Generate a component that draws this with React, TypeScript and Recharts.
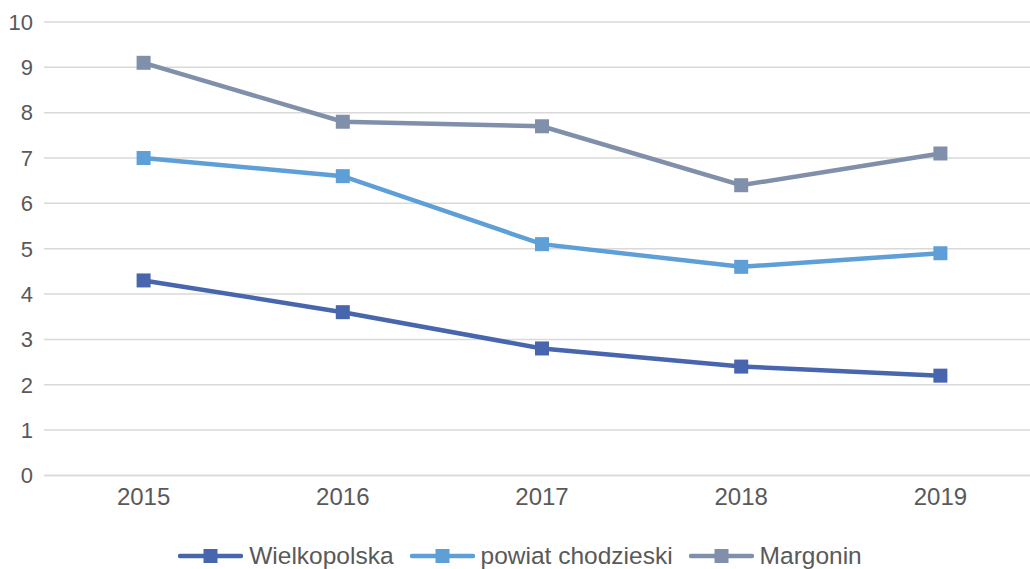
import React from 'react';
import { LineChart, Line, XAxis, YAxis, CartesianGrid, Legend } from 'recharts';

const years = ['2015', '2016', '2017', '2018', '2019'];
const wielkopolska = [4.3, 3.6, 2.8, 2.4, 2.2];
const powiatChodzieski = [7.0, 6.6, 5.1, 4.6, 4.9];
const margonin = [9.1, 7.8, 7.7, 6.4, 7.1];
const yTicks = [0, 1, 2, 3, 4, 5, 6, 7, 8, 9, 10];

const seriesDefs = [
  { key: 'wielkopolska', name: 'Wielkopolska', color: '#4866AD' },
  { key: 'powiat', name: 'powiat chodzieski', color: '#5E9FD7' },
  { key: 'margonin', name: 'Margonin', color: '#8090AA' },
];

const data = years.map((y, i) => ({
  year: y,
  wielkopolska: wielkopolska[i],
  powiat: powiatChodzieski[i],
  margonin: margonin[i],
}));

const FONT = '"Liberation Sans", Arial, sans-serif';
const TEXT = '#595959';
const GRID = '#D9D9D9';

const SquareDot = (color: string) => (props: any) => {
  const { cx, cy } = props;
  if (cx == null || cy == null) return null;
  return <rect x={cx - 7} y={cy - 7} width={14} height={14} fill={color} />;
};

const LegendContent = () => (
  <div
    style={{
      display: 'flex',
      justifyContent: 'center',
      alignItems: 'center',
      height: 34,
      boxSizing: 'border-box',
      paddingTop: 8,
      fontFamily: FONT,
      fontSize: 24.5,
      color: TEXT,
    }}
  >
    {seriesDefs.map((s, i) => (
      <div key={s.key} style={{ display: 'flex', alignItems: 'center', marginLeft: i === 0 ? 0 : 16 }}>
        <svg width={65} height={16} style={{ display: 'block' }}>
          <line x1={2} y1={8} x2={63} y2={8} stroke={s.color} strokeWidth={4.5} strokeLinecap="round" />
          <rect x={25.5} y={1} width={14} height={14} fill={s.color} />
        </svg>
        <span style={{ marginLeft: 6, whiteSpace: 'nowrap', lineHeight: '26px' }}>{s.name}</span>
      </div>
    ))}
  </div>
);

export default function App() {
  return (
    <div style={{ position: 'fixed', left: 0, top: 0, width: 1030, height: 569, overflow: 'hidden', background: '#fff' }}>
      <LineChart
        width={1045}
        height={569}
        data={data}
        margin={{ top: 22, right: 5, bottom: 0, left: 0 }}
        style={{ fontFamily: FONT }}
      >
        <CartesianGrid vertical={false} stroke={GRID} strokeWidth={1.5} />
        <XAxis
          dataKey="year"
          height={59.6}
          padding={{ left: 99.6, right: 99.6 }}
          axisLine={{ stroke: GRID, strokeWidth: 1.5 }}
          tickLine={false}
          tickMargin={7}
          tick={{ fill: TEXT, fontSize: 24, fontFamily: FONT }}
        />
        <YAxis
          width={44}
          domain={[0, 10]}
          ticks={yTicks}
          axisLine={false}
          tickLine={false}
          tickMargin={5}
          interval={0}
          tick={{ fill: TEXT, fontSize: 22, fontFamily: FONT }}
        />
        <Legend verticalAlign="bottom" content={<LegendContent />} />
        {seriesDefs.map((s) => (
          <Line
            key={s.key}
            type="linear"
            dataKey={s.key}
            name={s.name}
            stroke={s.color}
            strokeWidth={4.5}
            dot={SquareDot(s.color)}
            activeDot={false}
            isAnimationActive={false}
          />
        ))}
      </LineChart>
    </div>
  );
}
